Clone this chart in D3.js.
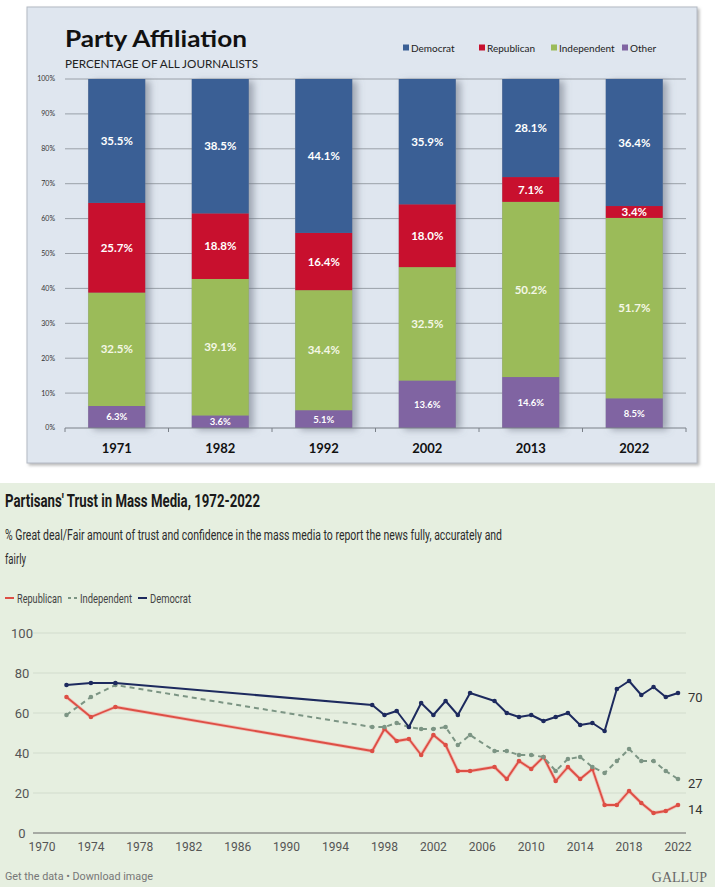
<!DOCTYPE html>
<html>
<head>
<meta charset="utf-8">
<script src="https://cdn.jsdelivr.net/npm/d3@7"></script>
<style>
  body { margin: 0; background: #fff; }
  svg { display: block; }
</style>
</head>
<body>
<svg id="chart" width="715" height="887"></svg>
<script>
// ---- party affiliation of journalists (top) ----
const surveyYears = ["1971", "1982", "1992", "2002", "2013", "2022"];
const democrat    = [35.5, 38.5, 44.1, 35.9, 28.1, 36.4];
const republican  = [25.7, 18.8, 16.4, 18.0, 7.1, 3.4];
const independent = [32.5, 39.1, 34.4, 32.5, 50.2, 51.7];
const other       = [6.3, 3.6, 5.1, 13.6, 14.6, 8.5];
const partyNames  = ["Democrat", "Republican", "Independent", "Other"];

// ---- partisans' trust in mass media (bottom) ----
const trustYears = [1972, 1974, 1976, 1997, 1998, 1999, 2000, 2001, 2002, 2003, 2004, 2005, 2007,
                    2008, 2009, 2010, 2011, 2012, 2013, 2014, 2015, 2016, 2017, 2018, 2019, 2020, 2021, 2022];
const demTrust = [74, 75, 75, 64, 59, 61, 53, 65, 59, 66, 59, 70, 66, 60, 58, 59, 56, 58, 60, 54, 55, 51, 72, 76, 69, 73, 68, 70];
const repTrust = [68, 58, 63, 41, 52, 46, 47, 39, 49, 44, 31, 31, 33, 27, 36, 32, 38, 26, 33, 27, 32, 14, 14, 21, 15, 10, 11, 14];
const indTrust = [59, 68, 74, 53, 53, 55, 53, 52, 52, 53, 44, 49, 41, 41, 39, 39, 38, 31, 37, 38, 33, 30, 36, 42, 36, 36, 31, 27];
const xTickYears = [1970, 1974, 1978, 1982, 1986, 1990, 1994, 1998, 2002, 2006, 2010, 2014, 2018, 2022];

const svg = d3.select("#chart");
const defs = svg.append("defs");
defs.append("filter").attr("id", "barShadow").attr("x", "-20%").attr("width", "160%")
    .append("feDropShadow").attr("dx", 5).attr("dy", 2).attr("stdDeviation", 3.5)
    .attr("flood-color", "#6a7080").attr("flood-opacity", 0.55);
defs.append("filter").attr("id", "frameShadow")
    .append("feDropShadow").attr("dx", 2).attr("dy", 2).attr("stdDeviation", 1.5)
    .attr("flood-color", "#888").attr("flood-opacity", 0.6);

//************ top chart **************//
const topG = svg.append("g");
topG.append("rect").attr("x", 27).attr("y", 7).attr("width", 670).attr("height", 456)
    .attr("fill", "#dfe6ef").attr("stroke", "#b4bac4").attr("filter", "url(#frameShadow)");

const calibri = "Lato, 'Open Sans', sans-serif";
topG.append("text").attr("x", 65).attr("y", 47).text("Party Affiliation")
    .attr("font-family", calibri).attr("font-weight", "bold").attr("font-size", 23).attr("fill", "#111")
    .attr("textLength", 182).attr("lengthAdjust", "spacingAndGlyphs");
topG.append("text").attr("x", 65).attr("y", 68).text("PERCENTAGE OF ALL JOURNALISTS")
    .attr("font-family", calibri).attr("font-size", 11).attr("fill", "#222")
    .attr("textLength", 193).attr("lengthAdjust", "spacingAndGlyphs");

const partyColor = d3.scaleOrdinal().domain(partyNames)
    .range(["#3a5f95", "#c8102e", "#9bbb59", "#8064a2"]);

// legend
const legendX = [403, 479, 551, 622];
const legend = topG.selectAll(".legend").data(partyNames).enter().append("g")
    .attr("transform", (d, i) => "translate(" + legendX[i] + ",48)");
legend.append("rect").attr("y", -3.5).attr("width", 6).attr("height", 6).attr("fill", d => partyColor(d));
legend.append("text").attr("x", 8).attr("dy", "0.35em").text(d => d)
    .attr("font-family", calibri).attr("font-size", 10).attr("fill", "#222");

const bx = d3.scaleBand().domain(surveyYears).range([65, 686]).paddingInner(0.45).paddingOuter(0.225);
const by = d3.scaleLinear().domain([0, 100]).range([428, 79]);

// gridlines + y labels
const yg = topG.append("g");
yg.selectAll("line").data(d3.range(10, 101, 10)).enter().append("line")
    .attr("x1", 65).attr("x2", 686).attr("y1", d => by(d)).attr("y2", d => by(d))
    .attr("stroke", "#9aa0a8").attr("stroke-width", 1);
yg.selectAll("text").data(d3.range(0, 101, 10)).enter().append("text")
    .attr("x", 55).attr("y", d => by(d)).attr("dy", "0.35em").attr("text-anchor", "end")
    .text(d => d + "%").attr("font-family", calibri).attr("font-size", 7).attr("fill", "#333");

const rows = surveyYears.map((y, i) => ({
  year: y, Democrat: democrat[i], Republican: republican[i], Independent: independent[i], Other: other[i]
}));
const series = d3.stack().keys(["Other", "Independent", "Republican", "Democrat"])(rows);

const barG = topG.append("g");
barG.selectAll("rect.shadow").data(rows).enter().append("rect").attr("class", "shadow")
    .attr("x", d => bx(d.year)).attr("y", by(100)).attr("width", bx.bandwidth()).attr("height", by(0) - by(100))
    .attr("fill", "#8a8f99").attr("filter", "url(#barShadow)");
series.forEach(s => {
  barG.selectAll(null).data(s).enter().append("rect")
      .attr("x", d => bx(d.data.year)).attr("y", d => by(d[1]))
      .attr("width", bx.bandwidth()).attr("height", d => by(d[0]) - by(d[1]))
      .attr("fill", partyColor(s.key));
  barG.selectAll(null).data(s).enter().append("text")
      .attr("x", d => bx(d.data.year) + bx.bandwidth() / 2)
      .attr("y", d => by((d[0] + d[1]) / 2)).attr("dy", "0.36em")
      .attr("text-anchor", "middle").text(d => d.data[s.key].toFixed(1) + "%")
      .attr("font-family", calibri).attr("font-weight", "bold")
      .attr("font-size", s.key === "Other" ? 9.5 : 11.5)
      .attr("fill", s.key === "Independent" ? "#f4f7e6" : "#fff");
});

// x axis
const xa = topG.append("g").attr("transform", "translate(0," + by(0) + ")");
xa.append("line").attr("x1", 65).attr("x2", 686).attr("stroke", "#7a8088");
const step = bx.step();
xa.selectAll("line.tick").data(d3.range(0, 7)).enter().append("line").attr("class", "tick")
    .attr("x1", i => 65 + i * step).attr("x2", i => 65 + i * step).attr("y2", 4).attr("stroke", "#7a8088");
xa.selectAll("text").data(surveyYears).enter().append("text")
    .attr("x", d => bx(d) + bx.bandwidth() / 2).attr("y", 20).attr("dy", "0.35em")
    .attr("text-anchor", "middle").text(d => d)
    .attr("font-family", calibri).attr("font-weight", "bold").attr("font-size", 13).attr("fill", "#111");

//************ bottom chart **************//
const bot = svg.append("g");
bot.append("rect").attr("x", 0).attr("y", 483).attr("width", 715).attr("height", 404).attr("fill", "#e6efe0");

const gFont = "Roboto, 'Liberation Sans', sans-serif";
bot.append("text").attr("x", 5).attr("y", 507).text("Partisans' Trust in Mass Media, 1972-2022")
    .attr("font-family", gFont).attr("font-weight", "bold").attr("font-size", 17.5).attr("fill", "#1a1a1a")
    .attr("textLength", 255).attr("lengthAdjust", "spacingAndGlyphs");
bot.append("text").attr("x", 5).attr("y", 540)
    .text("% Great deal/Fair amount of trust and confidence in the mass media to report the news fully, accurately and")
    .attr("font-family", gFont).attr("font-size", 14).attr("fill", "#2a2a2a")
    .attr("textLength", 497).attr("lengthAdjust", "spacingAndGlyphs");
bot.append("text").attr("x", 5).attr("y", 564).text("fairly")
    .attr("font-family", gFont).attr("font-size", 14).attr("fill", "#2a2a2a")
    .attr("textLength", 21).attr("lengthAdjust", "spacingAndGlyphs");

const lineSeries = [
  { name: "Republican", values: repTrust, color: "#dd4f45", dash: null },
  { name: "Independent", values: indTrust, color: "#7c9584", dash: "5,4" },
  { name: "Democrat", values: demTrust, color: "#1d2a5e", dash: null }
];

// legend
const lgX = [5, 68, 138];
const lgW = [45, 52, 41];
const lg = bot.selectAll(".lg").data(lineSeries).enter().append("g")
    .attr("transform", (d, i) => "translate(" + lgX[i] + ",598)");
lg.append("line").attr("x2", 9).attr("stroke", d => d.color).attr("stroke-width", 2)
    .attr("stroke-dasharray", d => d.dash ? "3,3" : null);
lg.append("text").attr("x", 12).attr("dy", "0.35em").text(d => d.name)
    .attr("font-family", gFont).attr("font-size", 13).attr("fill", "#444")
    .attr("textLength", (d, i) => lgW[i]).attr("lengthAdjust", "spacingAndGlyphs");

const lx = d3.scaleLinear().domain([1970, 2022]).range([42, 678]);
const ly = d3.scaleLinear().domain([0, 100]).range([833, 633]);

bot.append("g").selectAll("line").data(d3.range(20, 101, 20)).enter().append("line")
    .attr("x1", 33).attr("x2", 686).attr("y1", d => ly(d)).attr("y2", d => ly(d))
    .attr("stroke", "#d2dccd").attr("stroke-width", 1);
bot.append("line").attr("x1", 33).attr("x2", 686).attr("y1", ly(0)).attr("y2", ly(0))
    .attr("stroke", "#666").attr("stroke-width", 1.2);
bot.append("g").selectAll("text").data(d3.range(0, 101, 20)).enter().append("text")
    .attr("x", 22).attr("y", d => ly(d)).attr("dy", "0.35em").attr("text-anchor", "middle")
    .text(d => d).attr("font-family", gFont).attr("font-size", 13).attr("fill", "#555");
bot.append("g").selectAll("text").data(xTickYears).enter().append("text")
    .attr("x", d => lx(d)).attr("y", 847).attr("dy", "0.35em").attr("text-anchor", "middle")
    .text(d => d).attr("font-family", gFont).attr("font-size", 12).attr("fill", "#555");

const line = d3.line().x(d => lx(d[0])).y(d => ly(d[1]));
lineSeries.forEach(s => {
  const pts = trustYears.map((y, i) => [y, s.values[i]]);
  if (s.name === "Republican") {
    bot.append("path").attr("d", line(pts)).attr("fill", "none")
        .attr("stroke", "#f3b3ab").attr("stroke-width", 3.5).attr("stroke-opacity", 0.8)
        .attr("stroke-linejoin", "round");
  }
  bot.append("path").attr("d", line(pts)).attr("fill", "none")
      .attr("stroke", s.color).attr("stroke-width", s.name === "Republican" ? 1.8 : 2)
      .attr("stroke-linejoin", "round").attr("stroke-dasharray", s.dash);
  bot.append("g").selectAll("circle").data(pts).enter().append("circle")
      .attr("cx", d => lx(d[0])).attr("cy", d => ly(d[1])).attr("r", 2.3).attr("fill", s.color);
  const last = pts[pts.length - 1];
  bot.append("text").attr("x", 688).attr("y", ly(last[1]) + 4).attr("dy", "0.35em")
      .text(last[1]).attr("font-family", gFont).attr("font-size", 13).attr("fill", "#333");
});

bot.append("text").attr("x", 5).attr("y", 880).text("Get the data • Download image")
    .attr("font-family", gFont).attr("font-size", 10.5).attr("fill", "#777")
    .attr("textLength", 148).attr("lengthAdjust", "spacingAndGlyphs");
bot.append("text").attr("x", 707).attr("y", 882).attr("text-anchor", "end").text("GALLUP")
    .attr("font-family", "'Liberation Serif', serif").attr("font-size", 14).attr("fill", "#666");
</script>
</body>
</html>
